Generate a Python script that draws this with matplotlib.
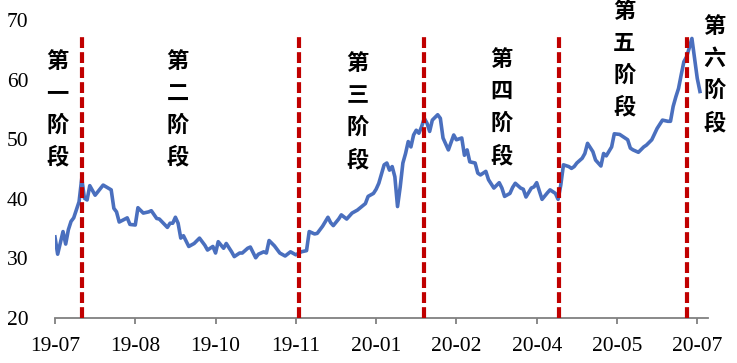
import matplotlib
matplotlib.use("Agg")
import matplotlib.pyplot as plt

# ---------------- DATA ----------------
# trading-day number (0 = first day of 2019-07) and index value
day = [0, 1, 3, 4, 5, 6, 7, 9, 10, 11, 12, 13, 15, 18, 21, 22, 23, 24, 27, 28,
       30, 31, 33, 35, 36, 38, 39, 42, 43, 44, 45, 46, 47, 48, 50, 52, 54, 56, 57, 59,
       60, 61, 63, 64, 66, 67, 69, 70, 72, 73, 75, 76, 78, 79, 80, 82, 84, 86, 88, 90,
       92, 94, 95, 97, 98, 100, 102, 103, 104, 106, 107, 109, 111, 113, 116, 117, 119, 120, 121, 123,
       124, 125, 126, 127, 128, 129, 130, 131, 132, 133, 134, 135, 136, 137, 138, 139, 140, 141, 143, 144,
       145, 147, 149, 150, 152, 153, 154, 155, 157, 158, 159, 161, 162, 164, 166, 167, 168, 170, 171, 172,
       174, 175, 176, 178, 179, 180, 182, 184, 185, 187, 188, 189, 190, 192, 193, 194, 195, 197, 198, 199,
       201, 202, 204, 205, 206, 208, 209, 211, 212, 214, 215, 216, 218, 220, 221, 223, 225, 226, 227, 229,
       230, 231, 232, 233, 234, 235, 236, 237, 238, 239, 240, 241]
value = [33.6, 30.7, 34.5, 32.4, 34.8, 36.2, 36.8, 39.5, 43.4, 40.1, 39.8, 42.2, 40.6, 42.3, 41.5, 38.4, 37.8, 36.1, 36.8, 35.7,
         35.6, 38.5, 37.6, 37.8, 38.0, 36.7, 36.6, 35.2, 35.9, 35.9, 36.9, 35.9, 33.4, 33.8, 32.0, 32.5, 33.4, 32.2, 31.4, 32.0,
         30.9, 32.8, 31.7, 32.5, 31.1, 30.3, 30.9, 30.9, 31.7, 31.9, 30.1, 30.7, 31.1, 30.9, 33.0, 32.1, 30.9, 30.4, 31.1, 30.6,
         31.1, 31.3, 34.5, 34.1, 34.2, 35.4, 36.9, 36.0, 35.5, 36.6, 37.3, 36.6, 37.6, 38.1, 39.2, 40.4, 40.9, 41.6, 42.6, 45.7,
         46.0, 44.8, 45.4, 43.7, 38.7, 42.0, 46.0, 47.6, 49.6, 48.7, 50.7, 51.5, 51.0, 52.1, 53.5, 52.7, 51.3, 53.2, 54.1, 53.5,
         50.2, 48.2, 50.7, 49.9, 50.2, 47.3, 48.2, 46.2, 46.0, 44.3, 44.0, 44.6, 43.2, 41.8, 42.7, 41.8, 40.4, 40.9, 41.9, 42.6,
         41.8, 41.6, 40.3, 41.8, 42.0, 42.7, 39.9, 41.0, 41.5, 40.9, 39.9, 42.3, 45.7, 45.4, 45.1, 45.4, 46.0, 46.8, 47.6, 49.3,
         47.9, 46.5, 45.5, 47.6, 47.2, 48.7, 50.9, 50.8, 50.5, 49.9, 48.5, 48.2, 47.8, 48.7, 49.0, 49.9, 51.8, 52.5, 53.2, 53.0,
         53.0, 55.5, 57.1, 58.5, 60.8, 63.0, 63.8, 65.3, 66.9, 63.6, 60.2, 58.0]

tick_days = [0, 30, 60, 90, 120, 150, 180, 210, 240]
tick_labels = ["19-07", "19-08", "19-10", "19-11", "20-01", "20-02", "20-04", "20-05", "20-07"]

# stage boundaries (trading-day number)
stage_breaks = [10, 91, 138, 188.5, 236.3]

# stage labels: text, day position, top value
stage_names = ["第一阶段", "第二阶段", "第三阶段", "第四阶段", "第五阶段", "第六阶段"]
stage_x = [0.9, 45.8, 113.0, 166.8, 212.7, 246.4]
stage_top = [65.0, 65.0, 64.6, 65.3, 73.4, 70.8]

# ---------------- PLOT ----------------
fig = plt.figure(figsize=(7.37, 3.63), dpi=100)
ax = fig.add_axes([0.0746, 0.124, 0.886, 0.821])

ax.plot(day, value, color="#4A6FBE", linewidth=2.6, solid_joinstyle="round", zorder=3)

for b in stage_breaks:
    ln, = ax.plot([b, b], [20, 67.3], color="#C00000", linewidth=3, zorder=4)
    ln.set_dashes((2.6, 1.0))

for name, x, top in zip(stage_names, stage_x, stage_top):
    ax.text(x, top, "\n".join(name), ha="center", va="top",
            fontsize=16, fontweight="bold", linespacing=1.5,
            family=["Noto Sans CJK SC", "DejaVu Sans"], color="black", zorder=5)

ax.set_xlim(0, 244)
ax.set_ylim(20, 70)
ax.set_yticks([20, 30, 40, 50, 60, 70])
ax.set_xticks(tick_days)
ax.set_xticklabels(tick_labels)

for s in ["top", "right", "left"]:
    ax.spines[s].set_visible(False)
ax.spines["bottom"].set_color("#808080")
ax.spines["bottom"].set_linewidth(1.3)

ax.tick_params(axis="y", length=0, pad=19, labelsize=15.5)
ax.tick_params(axis="x", direction="out", length=4.5, width=1.3, color="#808080",
               pad=9, labelsize=15.5)
for lab in ax.get_xticklabels() + ax.get_yticklabels():
    lab.set_family("Liberation Serif")

fig.savefig("out.png", dpi=100)
